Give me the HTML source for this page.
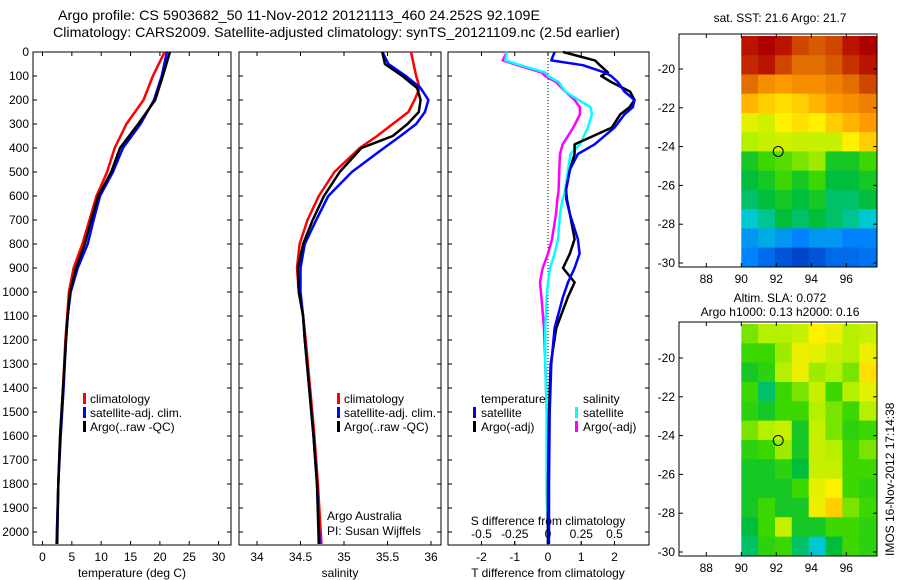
<!DOCTYPE html>
<html><head><meta charset="utf-8"><style>
body{margin:0;background:#fff}
svg{display:block;font-family:"Liberation Sans",sans-serif}
text{font-size:12px;fill:#000}
</style></head><body>
<svg id="fig" width="900" height="580" viewBox="0 0 900 580">
<text x="58" y="20" textLength="482" lengthAdjust="spacingAndGlyphs" style="font-size:14px">Argo profile: CS 5903682_50 11-Nov-2012 20121113_460 24.252S 92.109E</text>
<text x="53" y="37" textLength="567" lengthAdjust="spacingAndGlyphs" style="font-size:14px">Climatology: CARS2009. Satellite-adjusted climatology: synTS_20121109.nc (2.5d earlier)</text>
<text x="780" y="22" text-anchor="middle">sat. SST: 21.6 Argo: 21.7</text>
<text x="780" y="302" text-anchor="middle">Altim. SLA: 0.072</text>
<text x="780" y="316" text-anchor="middle">Argo h1000: 0.13 h2000: 0.16</text>
<text transform="translate(894,556) rotate(-90)">IMOS 16-Nov-2012 17:14:38</text>
<g id="g"></g>
</svg>
<script>
// ---- data ----
const depthT = [0,100,200,300,400,500,600,700,800,900,1000,1100,1200,1400,1600,1800,2050];
const tempClim = [20.8,18.8,17.2,14.3,12.3,11.0,9.2,8.0,6.8,5.3,4.5,4.2,3.9,3.5,3.0,2.7,2.4];
const tempSat  = [21.2,20.3,19.0,16.7,13.7,12.0,9.8,8.7,7.7,6.0,4.8,4.3,4.0,3.6,3.1,2.7,2.4];
const tempArgo = [21.7,20.5,19.2,16.3,13.2,11.7,9.5,8.3,7.2,5.7,4.7,4.3,4.0,3.5,3.0,2.7,2.5];
const depthS = [0,50,100,150,200,250,300,350,400,500,600,700,800,900,1000,1100,1200,1400,1600,1800,2050];
const salClim = [35.77,35.80,35.83,35.87,35.81,35.74,35.56,35.38,35.18,34.89,34.71,34.58,34.49,34.46,34.48,34.53,34.56,34.61,34.66,34.70,34.74];
const salSat  = [35.44,35.51,35.71,35.88,35.97,35.93,35.83,35.65,35.46,35.09,34.82,34.68,34.55,34.50,34.50,34.53,34.55,34.60,34.65,34.69,34.72];
const salArgo = [35.44,35.47,35.67,35.84,35.88,35.86,35.73,35.56,35.20,34.95,34.77,34.64,34.53,34.47,34.48,34.53,34.55,34.60,34.65,34.69,34.71];
const depthD = [0,35,55,85,100,125,165,200,230,260,315,385,425,490,575,615,675,780,840,900,960,1020,1150,1300,1500,1800,2050];
const dTSat  = [0.2,0.1,1.05,1.7,1.9,2.1,2.3,2.6,2.55,2.3,2.0,1.4,0.9,0.66,0.54,0.55,0.66,0.9,0.95,0.8,0.6,0.45,0.2,0.1,0.05,0.03,0.03];
const dTArgo = [0.45,1.41,1.56,1.8,1.6,1.9,2.47,2.6,2.45,2.17,1.92,0.8,0.8,0.66,0.54,0.57,0.66,0.8,0.66,0.45,0.8,0.6,0.25,0.08,0.03,0.0,0.0];
const dSSat  = [-0.31,-0.32,-0.21,-0.02,0.0,0.08,0.13,0.23,0.32,0.33,0.30,0.24,0.17,0.15,0.13,0.11,0.09,0.075,0.05,0.015,0.0,-0.01,-0.02,-0.02,-0.01,-0.01,0.0];
const dSArgo = [-0.31,-0.34,-0.23,-0.05,-0.02,0.06,0.13,0.2,0.24,0.24,0.19,0.11,0.09,0.085,0.08,0.07,0.06,0.03,0.0,-0.04,-0.06,-0.05,-0.03,-0.02,-0.01,-0.01,0.0];
const depthTicks = [0,100,200,300,400,500,600,700,800,900,1000,1100,1200,1300,1400,1500,1600,1700,1800,1900,2000];
const tempTicks = [0,5,10,15,20,25,30];
const salTicks = [34,34.5,35,35.5,36];
const dTTicks = [-2,-1,0,1,2];
const dSTicks = [-0.5,-0.25,0,0.25,0.5];
const dSTickLabels = ["-0.5","-0.25","0","0.25","0.5"];
const lonTicks = [88,90,92,94,96];
const latTicks = [-20,-22,-24,-26,-28,-30];
const sstGrid = [
[.95,.97,.95,.9,.88,.9,.95,.97],
[.93,.95,.9,.85,.85,.88,.92,.95],
[.85,.8,.78,.8,.8,.82,.85,.9],
[.75,.72,.7,.72,.75,.78,.8,.82],
[.65,.63,.68,.7,.68,.72,.75,.78],
[.6,.62,.63,.62,.62,.62,.68,.72],
[.45,.5,.52,.55,.58,.45,.45,.5],
[.42,.45,.5,.45,.5,.42,.42,.45],
[.4,.42,.45,.42,.45,.4,.4,.42],
[.35,.38,.42,.4,.42,.4,.38,.35],
[.3,.32,.3,.28,.3,.3,.28,.28],
[.28,.25,.22,.2,.22,.25,.25,.26]];
const slaGrid = [
[.55,.6,.6,.62,.68,.66,.6,.62],
[.5,.5,.58,.66,.65,.62,.6,.66],
[.45,.48,.6,.66,.58,.6,.55,.7],
[.5,.4,.5,.55,.62,.5,.6,.65],
[.48,.45,.5,.5,.6,.55,.5,.6],
[.55,.6,.62,.45,.62,.55,.48,.5],
[.48,.5,.58,.45,.62,.6,.5,.55],
[.45,.45,.48,.42,.62,.62,.5,.5],
[.45,.45,.45,.5,.65,.68,.5,.48],
[.45,.5,.45,.45,.66,.72,.55,.5],
[.42,.5,.62,.45,.45,.5,.5,.48],
[.4,.48,.5,.4,.35,.42,.5,.48]];
const argoLon = 92.109, argoLat = -24.252;

// ---- helpers ----
const NS="http://www.w3.org/2000/svg";
const G=document.getElementById('g');
function mk(t,a){const e=document.createElementNS(NS,t);for(const k in a)e.setAttribute(k,a[k]);G.appendChild(e);return e;}
const depthY = d => 52 + d*0.24;
const tX = v => 42.5 + v*5.87;
const sX = v => 257 + (v-34)*87;
const dTX = v => 548 + v*33.25;
const dSX = v => 548 + v*133;

function frame(x0,x1,y0,y1,name){
  const r=mk('rect',{x:x0,y:y0,width:x1-x0,height:y1-y0,fill:'none',stroke:'#000','stroke-width':1});
  
  
}
function xticks(vals,labels,f,y0,y1,ly,name,top){
  vals.forEach((v,i)=>{
    const x=f(v);
    const t=mk('line',{x1:x,x2:x,y1:y1,y2:y1-4,stroke:'#000'});
    
    
    if(top){const t2=mk('line',{x1:x,x2:x,y1:y0,y2:y0+4,stroke:'#000'});
    
    }
    if(ly){const l=mk('text',{x:x,y:ly,'text-anchor':'middle'});l.textContent=labels[i];
    
    }
  });
}
function depthTicksFn(x0,x1,labels){
  depthTicks.forEach(d=>{
    const y=depthY(d);
    const a=mk('line',{x1:x0,x2:x0+4,y1:y,y2:y,stroke:'#000'});
    
    
    const b=mk('line',{x1:x1,x2:x1-4,y1:y,y2:y,stroke:'#000'});
    
    
    if(labels){const l=mk('text',{x:x0-4,y:y+4,'text-anchor':'end'});l.textContent=d;
    
    }
  });
}
function line(xs,ds,f,col,name,w){
  const pts=xs.map((v,i)=>f(v).toFixed(1)+','+depthY(ds[i]).toFixed(1)).join(' ');
  const p=mk('polyline',{points:pts,fill:'none',stroke:col,'stroke-width':w||2.5,'stroke-linejoin':'round'});
  
  
}
function txt(x,y,s,name,anchor){
  const l=mk('text',{x:x,y:y,'text-anchor':anchor||'start'});l.textContent=s;
  
  
}
function swatch(x,y,col,name){
  const r=mk('rect',{x:x,y:y-10,width:3,height:11,fill:col});
  
  
}

// ---- panel 1: temperature ----
frame(33,231,52,545,'temperature-axes');
depthTicksFn(33,231,true);
xticks(tempTicks,tempTicks,tX,52,545,561,'temperature-x',true);
txt(132,577,'temperature (deg C)','temperature-x-title','middle');
line(tempClim,depthT,tX,'#f00','temp-climatology-line');
line(tempSat,depthT,tX,'#00f','temp-satellite-line');
line(tempArgo,depthT,tX,'#000','temp-argo-line');
swatch(83,403,'#f00','legend-climatology-swatch');txt(90,403,'climatology','legend-climatology');
swatch(83,417,'#00f','legend-satellite-swatch');txt(90,417,'satellite-adj. clim.','legend-satellite');
swatch(83,431,'#000','legend-argo-swatch');txt(90,431,'Argo(..raw -QC)','legend-argo');

// ---- panel 2: salinity ----
frame(239,441,52,545,'salinity-axes');
depthTicksFn(239,441,false);
xticks(salTicks,salTicks,sX,52,545,561,'salinity-x',true);
txt(340,577,'salinity','salinity-x-title','middle');
line(salClim,depthS,sX,'#f00','sal-climatology-line');
line(salSat,depthS,sX,'#00f','sal-satellite-line');
line(salArgo,depthS,sX,'#000','sal-argo-line');
swatch(337,403,'#f00','legend2-climatology-swatch');txt(344,403,'climatology','legend2-climatology');
swatch(337,417,'#00f','legend2-satellite-swatch');txt(344,417,'satellite-adj. clim.','legend2-satellite');
swatch(337,431,'#000','legend2-argo-swatch');txt(344,431,'Argo(..raw -QC)','legend2-argo');
txt(327,520,'Argo Australia','argo-australia-label');
txt(327,535,'PI: Susan Wijffels','pi-label');

// ---- panel 3: differences ----
frame(448,649,52,545,'difference-axes');
depthTicksFn(448,649,false);
xticks(dTTicks,dTTicks,dTX,52,545,561,'dT-x',true);
txt(548,577,'T difference from climatology','dT-x-title','middle');
const z=mk('line',{x1:548,x2:548,y1:52,y2:400,stroke:'#000','stroke-dasharray':'1,2'});


line(dSArgo,depthD,dSX,'#f0f','dS-argo-line');
line(dSSat,depthD,dSX,'#0ff','dS-satellite-line');
line(dTArgo,depthD,dTX,'#000','dT-argo-line');
line(dTSat,depthD,dTX,'#00f','dT-satellite-line');
txt(481,403,'temperature','legend3-temperature');
txt(583,403,'salinity','legend3-salinity');
swatch(473,417,'#00f','legend3-tsat-swatch');txt(481,417,'satellite','legend3-tsat');
swatch(473,431,'#000','legend3-targo-swatch');txt(481,431,'Argo(-adj)','legend3-targo');
swatch(575,417,'#0ff','legend3-ssat-swatch');txt(583,417,'satellite','legend3-ssat');
swatch(575,431,'#f0f','legend3-sargo-swatch');txt(583,431,'Argo(-adj)','legend3-sargo');
txt(548,525,'S difference from climatology','dS-axis-title','middle');
xticks(dSTicks,dSTickLabels,dSX,52,545,538,'dS-x',false);

// ---- maps ----
const stops=[[0.2,[0,70,200]],[0.28,[0,130,255]],[0.35,[0,200,210]],[0.42,[0,190,60]],[0.5,[60,215,0]],[0.6,[180,240,0]],[0.68,[255,240,0]],[0.78,[255,155,0]],[0.88,[215,90,0]],[0.97,[175,0,0]]];
function cmap(v){
  if(v<=stops[0][0])return 'rgb('+stops[0][1]+')';
  for(let i=1;i<stops.length;i++){if(v<=stops[i][0]){const a=stops[i-1],b=stops[i],t=(v-a[0])/(b[0]-a[0]);
    return 'rgb('+a[1].map((c,k)=>Math.round(c+(b[1][k]-c)*t)).join(',')+')';}}
  return 'rgb('+stops[stops.length-1][1]+')';
}
function drawMap(grid,top,bot,latRef,yRef,name){
  const lonX=v=>741.3+(v-90)*17.5;
  const latY=v=>yRef+(latRef-v)*19.4;
  const latTop=latRef+(yRef-top-2)/19.4, latBot=-30.2;
  const lon0=90,lon1=97.7;
  const nr=grid.length,nc=grid[0].length;
  const dLat=(latTop-latBot)/nr,dLon=(lon1-lon0)/nc;
  grid.forEach((row,r)=>row.forEach((v,c)=>{
    const x=lonX(lon0+c*dLon),y=latY(latTop-r*dLat);
    const e=mk('rect',{x:x.toFixed(1),y:y.toFixed(1),width:(dLon*17.5+0.6).toFixed(1),height:(dLat*19.4+0.6).toFixed(1),fill:cmap(v)});
    
    
  }));
  frame(679,877,top,bot,name+'-axes');
  lonTicks.forEach(v=>{const x=lonX(v);
    const a=mk('line',{x1:x,x2:x,y1:bot,y2:bot-4,stroke:'#000'});
    
    
    const b=mk('line',{x1:x,x2:x,y1:top,y2:top+4,stroke:'#000'});
    
    
    txt(x,bot+16,String(v),name+'-lon-label','middle');});
  latTicks.forEach(v=>{const y=latY(v);
    const a=mk('line',{x1:679,x2:683,y1:y,y2:y,stroke:'#000'});
    
    
    const b=mk('line',{x1:877,x2:873,y1:y,y2:y,stroke:'#000'});
    
    
    txt(675,y+4,String(v),name+'-lat-label','end');});
  const c=mk('circle',{cx:lonX(argoLon),cy:latY(argoLat),r:5,fill:'none',stroke:'#000','stroke-width':1});
  
  
}
drawMap(sstGrid,34,267,-20,69,'sst-map');
drawMap(slaGrid,322,556,-20,358,'sla-map');
</script>
</body></html>
